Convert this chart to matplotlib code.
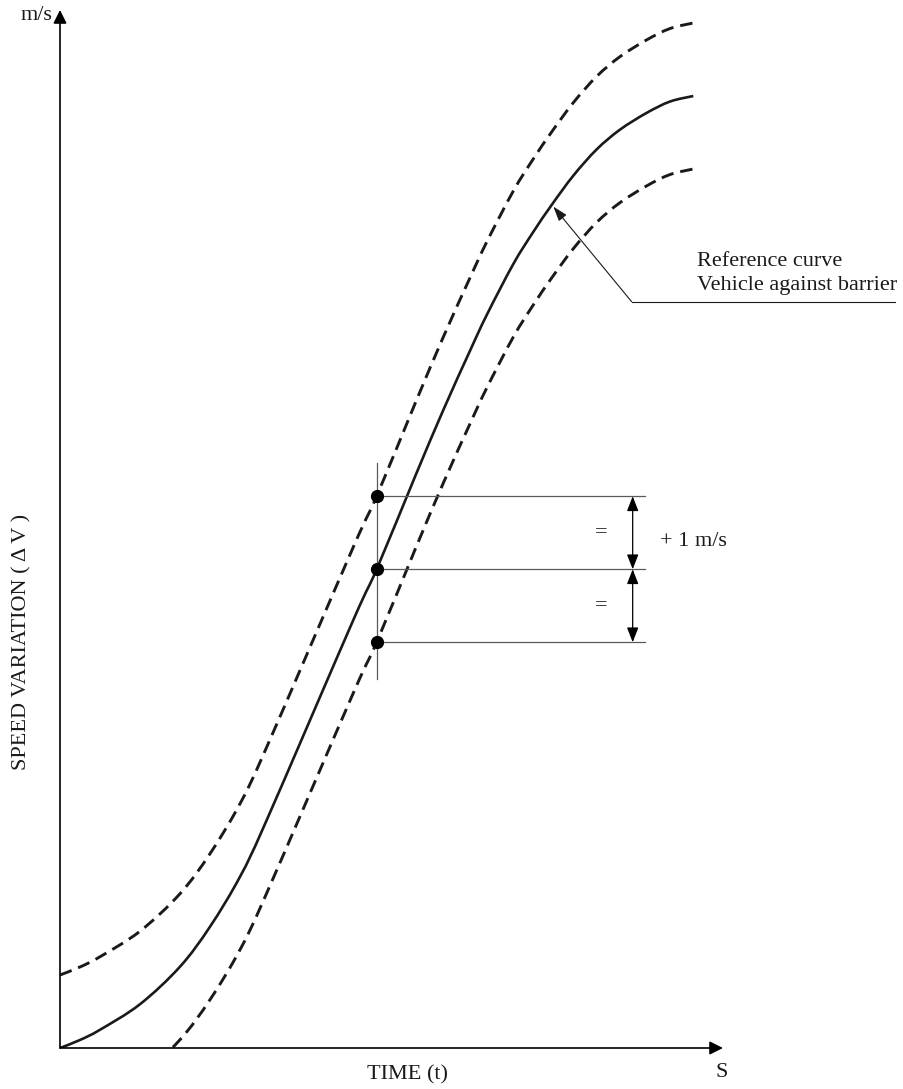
import numpy as np
import matplotlib
matplotlib.use('Agg')
import matplotlib.pyplot as plt
from matplotlib.path import Path
from matplotlib.patches import PathPatch

plt.rcParams['font.family'] = ['Liberation Serif', 'DejaVu Serif']
plt.rcParams['lines.scale_dashes'] = False

# Reference curve (vehicle against barrier)
time_t = [0.0, 0.274, 0.548, 1.096, 1.644, 2.055, 2.466, 2.832, 4.018, 4.338,
          4.863, 5.251, 5.616, 5.845, 6.210, 6.484, 6.736, 7.032, 7.352, 7.671,
          8.037, 8.356, 8.675]
delta_v = [0.0, 0.11, 0.25, 0.60, 1.114, 1.662, 2.347, 3.123, 5.863, 6.558,
           7.826, 8.740, 9.55, 10.04, 10.74, 11.18, 11.55, 11.95, 12.31, 12.58,
           12.81, 12.965, 13.041]
tolerance = 1.0          # +/- 1 m/s corridor
marker_idx = 9           # point where the corridor width is shown

t = np.array(time_t)
v = np.array(delta_v)
upper = v + tolerance
lower = v - tolerance

ink = '#1a1a1a'
grey = '#5a5a5a'
fs = 16


def smooth_path(x, y):
    # cubic bezier through the read points (catmull-rom tangents)
    verts = [(x[0], y[0])]
    codes = [Path.MOVETO]
    n = len(x)
    for i in range(n - 1):
        x0, y0 = (x[i - 1], y[i - 1]) if i > 0 else (x[i], y[i])
        x3, y3 = (x[i + 2], y[i + 2]) if i + 2 < n else (x[i + 1], y[i + 1])
        c1 = (x[i] + (x[i + 1] - x0) / 6, y[i] + (y[i + 1] - y0) / 6)
        c2 = (x[i + 1] - (x3 - x[i]) / 6, y[i + 1] - (y3 - y[i]) / 6)
        verts += [c1, c2, (x[i + 1], y[i + 1])]
        codes += [Path.CURVE4] * 3
    return Path(verts, codes)


fig = plt.figure(figsize=(9.04, 10.89), dpi=100)
ax = fig.add_axes([60 / 904, 41 / 1089, 663 / 904, 1038 / 1089])
ax.set_xlim(0, 663 / 73)
ax.set_ylim(0, 1038 / 73)
ax.axis('off')

# axes with arrow heads
xmax, ymax = ax.get_xlim()[1], ax.get_ylim()[1]
for end in [(xmax, 0), (0, ymax)]:
    ax.annotate('', xy=end, xytext=(0, 0), annotation_clip=False,
                arrowprops=dict(arrowstyle='-|>,head_length=0.8,head_width=0.4',
                                color=grey, lw=1.2, shrinkA=0, shrinkB=0,
                                fc='black', ec='black'))

# curves
ax.add_patch(PathPatch(smooth_path(t, v), fill=False, ec=ink, lw=1.9))
ax.add_patch(PathPatch(smooth_path(t, upper), fill=False, ec=ink, lw=2.1,
                       linestyle=(0, (9, 5))))
ax.add_patch(PathPatch(smooth_path(t, lower), fill=False, ec=ink, lw=2.1,
                       linestyle=(0, (9, 5))))

# corridor width indication
tm = t[marker_idx]
pts = [upper[marker_idx], v[marker_idx], lower[marker_idx]]
dim_end = 8.014
dim_x = 7.845
ax.plot([tm, tm], [pts[2] - 0.5, pts[0] + 0.45], color=grey, lw=0.9)
for y in pts:
    ax.plot([tm, dim_end], [y, y], color=grey, lw=0.9)
ax.plot([tm] * 3, pts, 'o', color='black', ms=8.5)
for y0, y1 in [(pts[0], pts[1]), (pts[1], pts[2])]:
    ax.annotate('', xy=(dim_x, y1), xytext=(dim_x, y0),
                arrowprops=dict(arrowstyle='<|-|>,head_length=0.9,head_width=0.35',
                                color='black', lw=0.9, shrinkA=0, shrinkB=0))
    ax.text(7.407, (y0 + y1) / 2, '=', fontsize=fs, color=ink, ha='center', va='center')
ax.text(8.219, 6.94, '+ 1 m/s', fontsize=fs, color=ink, ha='left', va='center')

# reference curve callout
ax.annotate('', xy=(6.758, 11.526), xytext=(7.831, 10.223), annotation_clip=False,
            arrowprops=dict(arrowstyle='-|>,head_length=0.9,head_width=0.3',
                            color=ink, lw=0.8, shrinkA=0, shrinkB=0))
ax.plot([7.831, 11.438], [10.223, 10.223], color=ink, lw=0.8, clip_on=False)
ax.text(8.721, 10.771, 'Reference curve', fontsize=fs, color=ink, ha='left', va='center')
ax.text(8.721, 10.452, 'Vehicle against barrier', fontsize=fs, color=ink, ha='left', va='center')

# axis labels
ax.text(-0.1, 14.15, 'm/s', fontsize=fs, color=ink, ha='right', va='center')
ax.text(9.068, -0.34, 'S', fontsize=fs, color=ink, ha='center', va='center')
ax.text(4.767, -0.37, 'TIME (t)', fontsize=fs, color=ink, ha='center', va='center')
ax.text(-0.52, 5.56, 'SPEED VARIATION ( Δ V )', fontsize=fs, color=ink,
        ha='center', va='center', rotation=90)

fig.savefig('out.png', dpi=100)
